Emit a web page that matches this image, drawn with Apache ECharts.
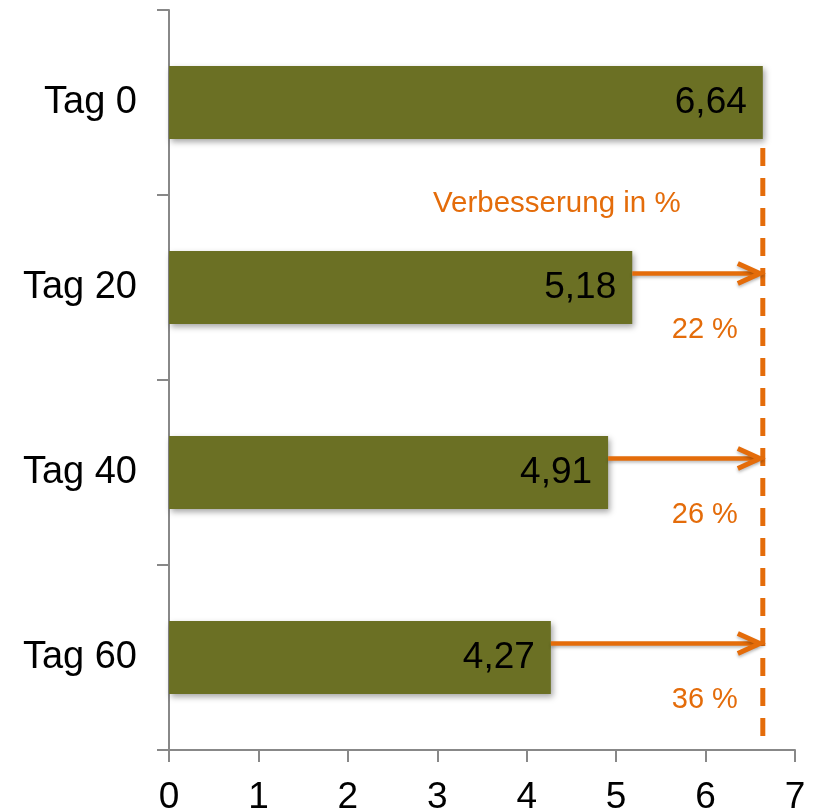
<!DOCTYPE html>
<html>
<head>
<meta charset="utf-8">
<script src="https://cdn.jsdelivr.net/npm/echarts@6/dist/echarts.min.js"></script>
<style>html,body{margin:0;padding:0;background:#fff}#c{width:813px;height:809px}</style>
</head>
<body>
<div id="c"></div>
<script>
var categories = ['Tag 0', 'Tag 20', 'Tag 40', 'Tag 60'];
var values = [6.64, 5.18, 4.91, 4.27];
var improvementLabels = ['', '22 %', '26 %', '36 %'];
var xTicks = [0, 1, 2, 3, 4, 5, 6, 7];
var annotationTitle = 'Verbesserung in %';

var refValue = values[0];
var FONT = '"Liberation Sans", Arial, sans-serif';
var ORANGE = '#E46C0A';

var arrowData = [];
for (var i = 1; i < values.length; i++) {
  arrowData.push([values[i], i, improvementLabels[i]]);
}

var chart = echarts.init(document.getElementById('c'));
chart.setOption({
  animation: false,
  backgroundColor: '#fff',
  grid: { left: 169, right: 18, top: 10, bottom: 59, containLabel: false, outerBoundsMode: 'none' },
  xAxis: {
    type: 'value', min: xTicks[0], max: xTicks[xTicks.length - 1], interval: 1,
    axisLine: { show: true, onZero: false, lineStyle: { color: '#888', width: 2 } },
    axisTick: { show: true, length: 12, lineStyle: { color: '#888', width: 2 } },
    splitLine: { show: false },
    axisLabel: { fontSize: 37, color: '#000', fontFamily: FONT, margin: 29 }
  },
  yAxis: [{
    type: 'category', data: categories, inverse: true,
    axisLine: { show: true, lineStyle: { color: '#888', width: 2 } },
    axisTick: { show: true, length: 12, lineStyle: { color: '#888', width: 2 } },
    axisLabel: { fontSize: 38, color: '#000', fontFamily: FONT, margin: 32 }
  }, {
    type: 'value', min: -0.5, max: 3.5, inverse: true, show: false
  }],
  series: [{
    type: 'bar',
    data: values,
    barWidth: 73,
    itemStyle: {
      color: '#6B7024',
      shadowColor: 'rgba(0,0,0,0.35)', shadowBlur: 6, shadowOffsetX: 2, shadowOffsetY: 3
    },
    label: {
      show: true, position: 'insideRight', distance: 16,
      fontSize: 37, color: '#000', fontFamily: FONT,
      formatter: function (p) { return String(p.value).replace('.', ','); }
    }
  }, {
    type: 'line',
    yAxisIndex: 1,
    data: [[refValue, 0.246], [refValue, 3.446]],
    symbol: 'none',
    lineStyle: { color: ORANGE, width: 5, type: [18, 12] },
    z: 3
  }, {
    type: 'custom',
    yAxisIndex: 1,
    data: arrowData,
    z: 4,
    renderItem: function (params, api) {
      var s = api.coord([api.value(0), api.value(1)]);
      var e = api.coord([refValue, api.value(1)]);
      var y = s[1] - 14;
      var tipX = e[0] - 3;
      return {
        type: 'group',
        children: [{
          type: 'line',
          shape: { x1: s[0], y1: y, x2: tipX - 2, y2: y },
          style: { stroke: ORANGE, lineWidth: 4.5, shadowColor: 'rgba(0,0,0,0.25)', shadowBlur: 3, shadowOffsetY: 2 }
        }, {
          type: 'polyline',
          shape: { points: [[tipX - 22, y - 10], [tipX, y], [tipX - 22, y + 10]] },
          style: { stroke: ORANGE, lineWidth: 5, fill: null, lineJoin: 'miter', shadowColor: 'rgba(0,0,0,0.25)', shadowBlur: 3, shadowOffsetY: 2 }
        }, {
          type: 'text',
          style: {
            x: e[0] - 58, y: s[1] + 42,
            text: api.value(2),
            fill: ORANGE, fontSize: 29, fontFamily: FONT,
            align: 'center', verticalAlign: 'middle'
          }
        }]
      };
    }
  }],
  graphic: [{
    type: 'text',
    left: 433, top: 189,
    style: { text: annotationTitle, fill: ORANGE, fontSize: 29.5, fontFamily: FONT }
  }]
});
</script>
</body>
</html>
